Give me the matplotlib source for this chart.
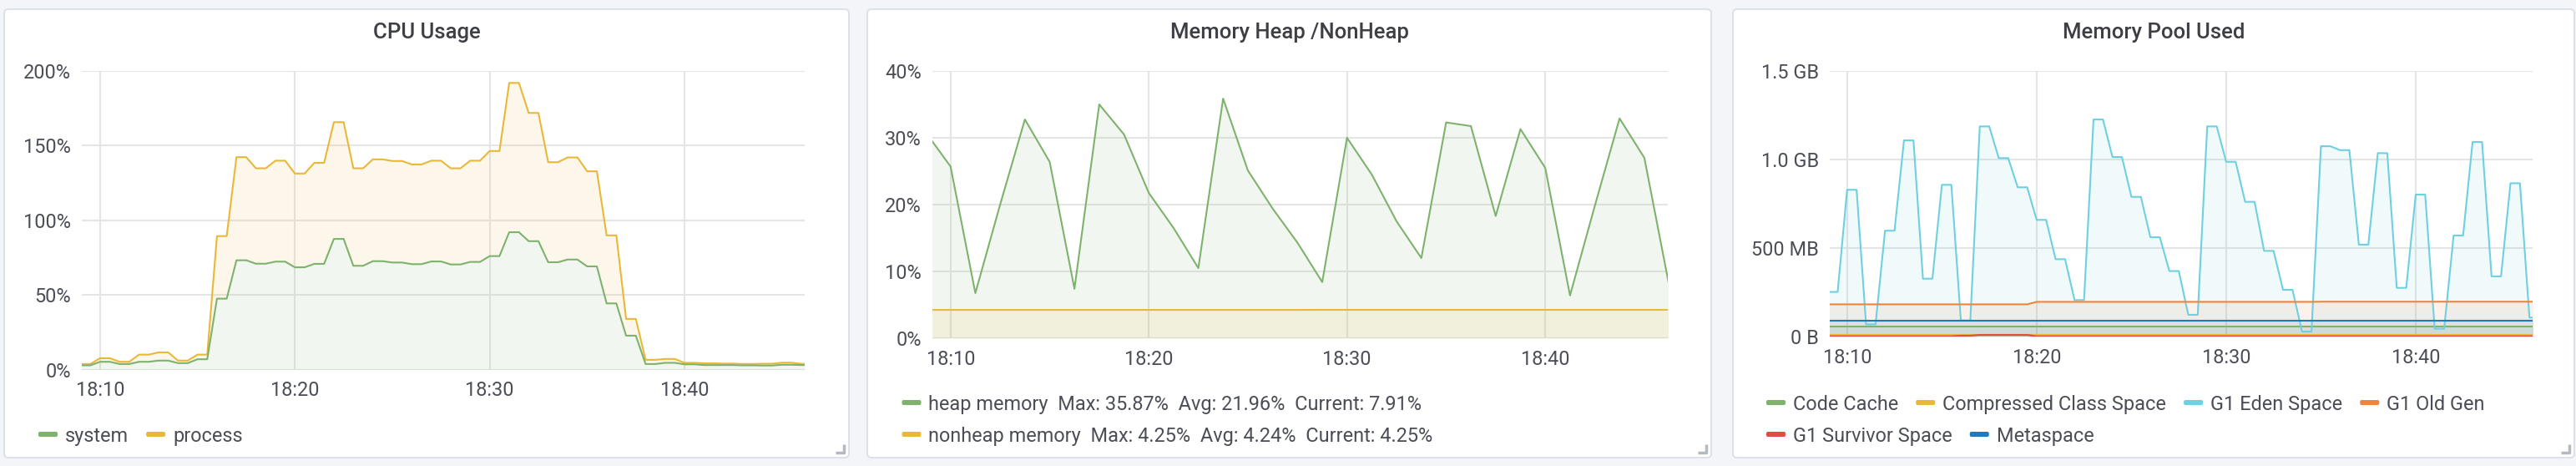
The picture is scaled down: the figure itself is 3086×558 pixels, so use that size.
import numpy as np
import pandas as pd
import matplotlib
matplotlib.use("Agg")
import matplotlib.pyplot as plt
import matplotlib.dates as mdates
from matplotlib.patches import FancyBboxPatch

plt.rcParams['font.family'] = ['Roboto', 'DejaVu Sans']

W, H = 3086, 558

# ---- data ----
# CPU usage in %, one value per minute from 18:09, each value is sampled twice (every 30s)
cpu_start = "2020-01-01 18:09:00"
cpu_system = [2.8, 5.2, 3.7, 5.2, 6.0, 4.3, 6.9, 47.5, 73.2, 70.9, 72.3, 68.5, 70.8,
              87.5, 69.5, 72.6, 71.7, 70.6, 72.4, 70.4, 72.1, 76.0, 92.0, 86.0, 71.9,
              73.7, 69.1, 44.3, 22.7, 3.7, 4.5, 3.5, 3.0, 3.0, 2.8, 2.7, 3.2, 3.0]
cpu_process = [3.7, 7.6, 5.2, 10.0, 11.5, 6.0, 10.0, 89.4, 142.3, 134.8, 139.9, 131.3,
               138.5, 165.7, 134.8, 140.8, 139.7, 137.4, 139.9, 134.8, 139.9, 146.4,
               192.0, 171.9, 138.9, 142.1, 132.8, 89.9, 33.9, 6.5, 7.1, 4.5, 4.2, 4.0,
               3.7, 3.9, 4.6, 3.8]

# heap / nonheap in %, one sample every 75s from 18:08:45
heap_start = "2020-01-01 18:08:45"
heap_memory = [30.8, 25.7, 6.75, 20.0, 32.75, 26.4, 7.4, 35.0, 30.5, 21.75, 16.5, 10.5,
               35.87, 25.1, 19.4, 14.3, 8.4, 30.0, 24.5, 17.5, 12.0, 32.3, 31.75, 18.3,
               31.3, 25.5, 6.4, 19.8, 32.9, 27.0, 7.91]
nonheap_memory = [4.24, 4.24, 4.24, 4.24, 4.24, 4.24, 4.24, 4.24, 4.24, 4.24, 4.24,
                  4.24, 4.24, 4.24, 4.24, 4.24, 4.25, 4.25, 4.25, 4.25, 4.25, 4.25,
                  4.25, 4.25, 4.25, 4.25, 4.25, 4.25, 4.25, 4.25, 4.25]

# memory pools in MB, one value per minute from 18:09, sampled twice (every 30s)
pool_start = "2020-01-01 18:09:00"
code_cache = [56.6] * 38
compressed_class = [9.5] * 38
g1_eden = [252, 829, 69, 598, 1108, 327, 857, 91, 1187, 1008, 843, 659, 437, 206,
           1226, 1014, 789, 561, 370, 123, 1187, 987, 761, 484, 264, 28, 1075, 1053,
           519, 1036, 275, 802, 44, 571, 1099, 340, 866, 107]
g1_old = [182, 182, 182, 182, 182, 182, 182, 182, 182, 182, 182, 196, 196, 196, 196,
          196, 196, 196, 196, 196, 196, 196, 196, 196, 196, 196, 197, 197, 197, 197,
          197, 197, 197, 197, 197, 197, 197, 197]
g1_survivor = [1.5, 1.5, 1.5, 1.5, 1.5, 1.5, 1.5, 5.0, 9.5, 9.5, 9.5, 1.5, 1.5, 1.5,
               1.5, 1.5, 1.5, 1.5, 1.5, 1.5, 1.5, 1.5, 1.5, 1.5, 1.5, 1.5, 1.5, 1.5,
               1.5, 1.5, 1.5, 1.5, 1.5, 1.5, 1.5, 1.5, 1.5, 1.5]
metaspace = [89.6] * 38

cpu_ticks = [0, 50, 100, 150, 200]
cpu_labels = ["0%", "50%", "100%", "150%", "200%"]
heap_ticks = [0, 10, 20, 30, 40]
heap_labels = ["0%", "10%", "20%", "30%", "40%"]
pool_ticks = [0, 500, 1000, 1500]
pool_labels = ["0 B", "500 MB", "1.0 GB", "1.5 GB"]

heap_legend = ["heap memory  Max: 35.87%  Avg: 21.96%  Current: 7.91%",
               "nonheap memory  Max: 4.25%  Avg: 4.24%  Current: 4.25%"]

GREEN, YELLOW, CYAN = '#7EB26D', '#EAB839', '#6ED0E0'
ORANGE, RED, BLUE = '#EF843C', '#E24D42', '#1F78C1'
TEXT = '#4b4e56'

t_min = pd.Timestamp("2020-01-01 18:09:05")
t_max = pd.Timestamp("2020-01-01 18:46:10")

cpu_t = pd.date_range(cpu_start, periods=2 * len(cpu_process), freq="30s")
heap_t = pd.date_range(heap_start, periods=len(heap_memory), freq="75s")
pool_t = pd.date_range(pool_start, periods=2 * len(g1_eden), freq="30s")

fig = plt.figure(figsize=(W / 100, H / 100), dpi=100, facecolor='#f4f5f8')

# background layer in pixel coordinates
bg = fig.add_axes([0, 0, 1, 1], zorder=-5)
bg.set_xlim(0, W)
bg.set_ylim(H, 0)
bg.axis('off')

panels = [(5, 11, 1017, 548), (1039, 11, 2050, 548), (2076, 11, 3084, 548)]
titles = ["CPU Usage", "Memory Heap /NonHeap", "Memory Pool Used"]
for (x0, y0, x1, y1), title in zip(panels, titles):
    bg.add_patch(FancyBboxPatch((x0, y0), x1 - x0, y1 - y0,
                                boxstyle="round,pad=0,rounding_size=5",
                                fc='white', ec='#dde1e8', lw=1.5))
    bg.text((x0 + x1) / 2, 39, title, ha='center', va='center', fontsize=18.5,
            fontweight='medium', color='#3d3f45')
    # resize handle
    bg.plot([x1 - 16, x1 - 6, x1 - 6], [y1 - 6, y1 - 6, y1 - 16],
            color='#b5b9c0', lw=2.5, solid_capstyle='butt')


def make_axes(x0, y0, x1, y1):
    ax = fig.add_axes([x0 / W, 1 - y1 / H, (x1 - x0) / W, (y1 - y0) / H])
    ax.patch.set_alpha(0)
    for s in ax.spines.values():
        s.set_visible(False)
    ax.set_xlim(t_min, t_max)
    ax.xaxis.set_major_locator(mdates.MinuteLocator(byminute=[10, 20, 30, 40]))
    ax.xaxis.set_major_formatter(mdates.DateFormatter('%H:%M'))
    ax.tick_params(axis='both', length=0, labelsize=16.9, colors=TEXT)
    ax.tick_params(axis='x', pad=10)
    ax.tick_params(axis='y', pad=9.5)
    ax.grid(True, color='#e5e5e5', lw=1.5)
    ax.set_axisbelow(True)
    return ax


def series(ax, t, v, color, base=0):
    ax.fill_between(t, v, base, color=color, alpha=0.1, lw=0)
    ax.plot(t, v, color=color, lw=1.5)


# CPU usage: the process area is shaded only down to the system line
ax1 = make_axes(98.5, 85, 964, 442.5)
proc = np.repeat(cpu_process, 2)
sys_ = np.repeat(cpu_system, 2)
series(ax1, cpu_t, proc, YELLOW, base=sys_)
series(ax1, cpu_t, sys_, GREEN)
ax1.set_ylim(0, 200)
ax1.set_yticks(cpu_ticks)
ax1.set_yticklabels(cpu_labels)

# heap / nonheap
ax2 = make_axes(1117, 85, 1997.6, 405)
series(ax2, heap_t, heap_memory, GREEN)
series(ax2, heap_t, nonheap_memory, YELLOW)
ax2.set_ylim(0, 40)
ax2.set_yticks(heap_ticks)
ax2.set_yticklabels(heap_labels)

# memory pools
ax3 = make_axes(2192, 85, 3034, 403)
series(ax3, pool_t, np.repeat(code_cache, 2), GREEN)
series(ax3, pool_t, np.repeat(compressed_class, 2), YELLOW)
series(ax3, pool_t, np.repeat(g1_eden, 2), CYAN)
series(ax3, pool_t, np.repeat(g1_old, 2), ORANGE)
series(ax3, pool_t, np.repeat(g1_survivor, 2), RED)
series(ax3, pool_t, np.repeat(metaspace, 2), BLUE)
ax3.set_ylim(0, 1500)
ax3.set_yticks(pool_ticks)
ax3.set_yticklabels(pool_labels)

# legends, laid out like grafana: marker, label, gap, next marker
renderer = fig.canvas.get_renderer()


def legend(x_start, rows):
    for y, items in rows:
        x = x_start
        for label, color in items:
            bg.add_patch(FancyBboxPatch((x, y - 3), 23, 6,
                                        boxstyle="round,pad=0,rounding_size=2",
                                        fc=color, ec='none'))
            txt = bg.text(x + 32, y, label, ha='left', va='center_baseline',
                          fontsize=16.9, color=TEXT)
            w = txt.get_window_extent(renderer).width
            x = x + 32 + w + 21


legend(46, [(520, [("system", GREEN), ("process", YELLOW)])])
legend(1080.5, [(482, [(heap_legend[0], GREEN)]),
                (520, [(heap_legend[1], YELLOW)])])
legend(2116, [(482, [("Code Cache", GREEN), ("Compressed Class Space", YELLOW),
                     ("G1 Eden Space", CYAN), ("G1 Old Gen", ORANGE)]),
              (520, [("G1 Survivor Space", RED), ("Metaspace", BLUE)])])

fig.savefig("out.png", dpi=100, facecolor=fig.get_facecolor())
